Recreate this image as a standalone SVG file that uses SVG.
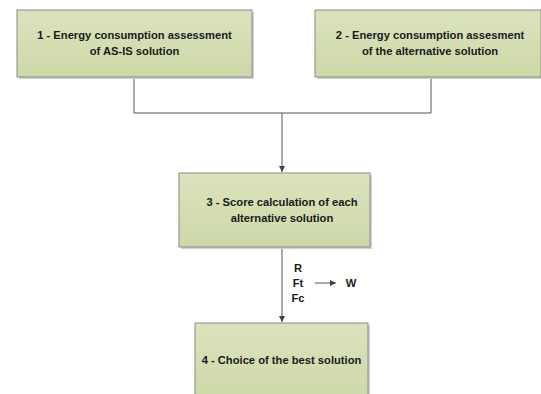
<svg xmlns="http://www.w3.org/2000/svg" width="541" height="394" viewBox="0 0 541 394">
<defs>
<linearGradient id="g" x1="0" y1="0" x2="0" y2="1"><stop offset="0" stop-color="#dbe3bd"/><stop offset="1" stop-color="#cdd8a8"/></linearGradient>
<marker id="ah" viewBox="0 0 10 10" refX="10" refY="5" markerWidth="6" markerHeight="6" orient="auto" markerUnits="userSpaceOnUse"><path d="M0,0 L10,5 L0,10 z" fill="#404040"/></marker>
</defs>
<style>
.box{fill:url(#g);stroke:#8a8a8a;stroke-width:1}
.sh{fill:#d0d0d0}
.t{font-family:"Liberation Sans",Arial,sans-serif;font-weight:bold;font-size:11.2px;fill:#1a1a1a;text-anchor:middle}
.c{fill:none;stroke:#555;stroke-width:1}
</style>
<rect width="541" height="394" fill="#fff"/>
<g id="connectors">
<path class="c" d="M134,78 V113 H431 V78"/>
<path class="c" d="M282,113 V172" marker-end="url(#ah)"/>
<path class="c" d="M282,247 V322" marker-end="url(#ah)"/>
<path class="c" d="M315,283 H336" marker-end="url(#ah)"/>
</g>
<g id="node1">
<rect class="sh" x="19" y="12" width="235" height="67"/>
<rect class="box" x="17" y="10" width="235" height="67"/>
<text class="t" x="134.5" y="39">1 - Energy consumption assessment</text>
<text class="t" x="134.5" y="55">of AS-IS solution</text>
</g>
<g id="node2">
<rect class="sh" x="317" y="12" width="226" height="67"/>
<rect class="box" x="315" y="10" width="226" height="67"/>
<text class="t" x="430" y="39">2 - Energy consumption assesment</text>
<text class="t" x="430" y="55">of the alternative solution</text>
</g>
<g id="node3">
<rect class="sh" x="181" y="175" width="191" height="74"/>
<rect class="box" x="179" y="173" width="191" height="74"/>
<text class="t" x="282" y="206">3 - Score calculation of each</text>
<text class="t" x="282" y="222">alternative solution</text>
</g>
<g id="node4">
<rect class="sh" x="197" y="325" width="173" height="75"/>
<rect class="box" x="195" y="323" width="173" height="75"/>
<text class="t" x="281.5" y="364">4 - Choice of the best solution</text>
</g>
<g id="labels">
<text class="t" x="298" y="272">R</text>
<text class="t" x="298" y="287">Ft</text>
<text class="t" x="298" y="302">Fc</text>
<text class="t" x="351" y="287">W</text>
</g>
</svg>
